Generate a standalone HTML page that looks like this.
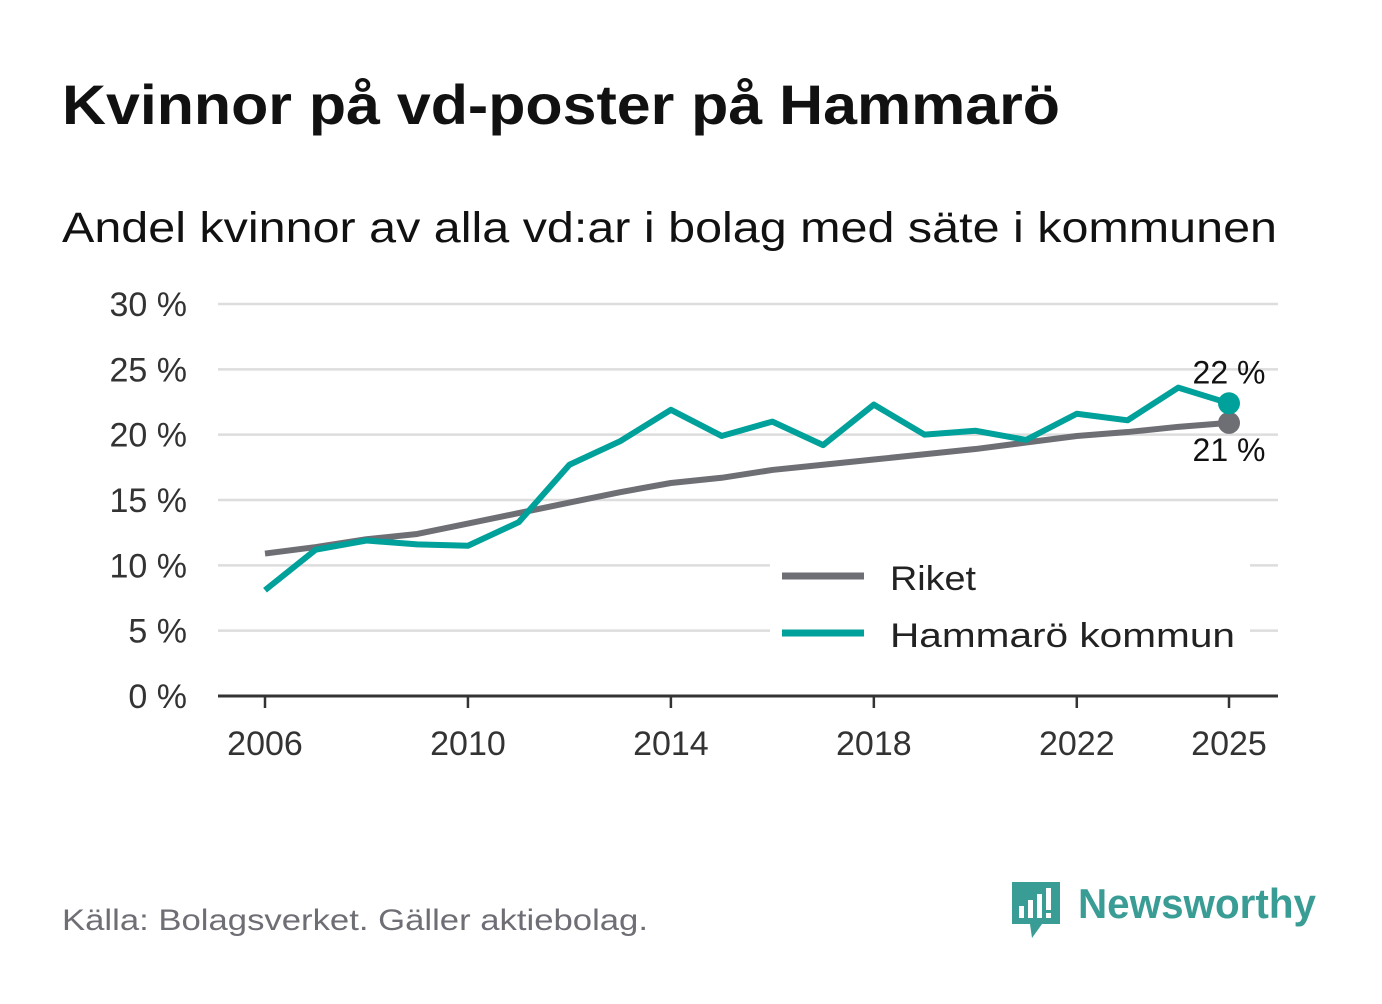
<!DOCTYPE html>
<html><head><meta charset="utf-8"><style>
body{margin:0;background:#fff;font-family:"Liberation Sans","DejaVu Sans",sans-serif;}
svg text{font-family:"Liberation Sans","DejaVu Sans",sans-serif;}
</style></head><body>
<svg width="1382" height="999" viewBox="0 0 1382 999" xmlns="http://www.w3.org/2000/svg">
<rect width="1382" height="999" fill="#fff"/>
<text x="62" y="124" font-size="56" font-weight="bold" fill="#111" textLength="998" lengthAdjust="spacingAndGlyphs">Kvinnor på vd-poster på Hammarö</text>
<text x="62" y="242" font-size="43" fill="#111" textLength="1215" lengthAdjust="spacingAndGlyphs">Andel kvinnor av alla vd:ar i bolag med säte i kommunen</text>
<g id="grid"></g>
<g id="yt"></g>
<g id="xt"></g>
<g id="lines"></g>
<g>
<rect x="770" y="548" width="480" height="110" fill="#fff"/>
<line x1="782" y1="576" x2="864" y2="576" stroke="#6e6e75" stroke-width="7"/>
<text x="890" y="590" font-size="34" fill="#222" textLength="86" lengthAdjust="spacingAndGlyphs">Riket</text>
<line x1="782" y1="633" x2="864" y2="633" stroke="#00a19a" stroke-width="7"/>
<text x="890" y="647" font-size="34" fill="#222" textLength="345" lengthAdjust="spacingAndGlyphs">Hammarö kommun</text>
</g>
<text x="62" y="930" font-size="30" fill="#6e6e75" textLength="586" lengthAdjust="spacingAndGlyphs">Källa: Bolagsverket. Gäller aktiebolag.</text>
<g>
<path d="M1012 882 h48 v42 h-18 l-10 14 l-2 -14 h-18 z" fill="#3a9d95"/>
<rect x="1019" y="906" width="5" height="12" fill="#fff"/><rect x="1028" y="900" width="5" height="18" fill="#fff"/><rect x="1037" y="894" width="5" height="24" fill="#fff"/><rect x="1046" y="888" width="5" height="22" fill="#fff"/><rect x="1046" y="913" width="5" height="5" fill="#fff"/>
<text x="1078" y="918" font-size="42" font-weight="bold" fill="#3a9d95" textLength="238" lengthAdjust="spacingAndGlyphs">Newsworthy</text>
</g>
</svg>
<script>
const years=[2006,2007,2008,2009,2010,2011,2012,2013,2014,2015,2016,2017,2018,2019,2020,2021,2022,2023,2024,2025];
const riket=[10.9,11.4,12.0,12.4,13.2,14.0,14.8,15.6,16.3,16.7,17.3,17.7,18.1,18.5,18.9,19.4,19.9,20.2,20.6,20.9];
const hammaro=[8.1,11.2,11.9,11.6,11.5,13.3,17.7,19.5,21.9,19.9,21.0,19.2,22.3,20.0,20.3,19.6,21.6,21.1,23.6,22.4];
const yTicks=[0,5,10,15,20,25,30];
const xTicks=[2006,2010,2014,2018,2022,2025];
const NS="http://www.w3.org/2000/svg";
const X=y=>265+(y-2006)*(1229-265)/19;
const Y=v=>696-v*(696-304)/30;
function mk(t,a,p){const e=document.createElementNS(NS,t);for(const k in a)e.setAttribute(k,a[k]);p.appendChild(e);return e;}
const grid=document.getElementById('grid'),yt=document.getElementById('yt'),xt=document.getElementById('xt'),lines=document.getElementById('lines');
yTicks.forEach(v=>{
 if(v>0){const l=mk('line',{x1:218,x2:1278,y1:Y(v),y2:Y(v),stroke:'#ddd','stroke-width':2.5},grid);
 
 }
 const t=mk('text',{x:187,y:Y(v)+12,'font-size':34,fill:'#333','text-anchor':'end'},yt);t.textContent=v+' %';
 
 
});
const ax=mk('line',{x1:218,x2:1278,y1:696,y2:696,stroke:'#333','stroke-width':3},xt);


xTicks.forEach(y=>{
 mk('line',{x1:X(y),x2:X(y),y1:696,y2:708,stroke:'#333','stroke-width':2.5},xt);
 const t=mk('text',{x:X(y),y:755,'font-size':34,fill:'#333','text-anchor':'middle'},xt);t.textContent=y;
 
 
});
function series(d,c,name){
 const p=mk('polyline',{points:d.map((v,i)=>X(years[i])+','+Y(v)).join(' '),fill:'none',stroke:c,'stroke-width':6,'stroke-linejoin':'round'},lines);
 
 
 const n=d.length-1;
 const dot=mk('circle',{cx:X(years[n]),cy:Y(d[n]),r:11,fill:c},lines);
 
 
}
series(riket,'#6e6e75','riket');
series(hammaro,'#00a19a','hammaro');
const l1=mk('text',{x:X(2025),y:Y(hammaro[19])-20,'font-size':32,fill:'#111','text-anchor':'middle'},lines);
l1.textContent=Math.round(hammaro[19])+' %';


const l2=mk('text',{x:X(2025),y:Y(riket[19])+38,'font-size':32,fill:'#111','text-anchor':'middle'},lines);
l2.textContent=Math.round(riket[19])+' %';


</script>
</body></html>
